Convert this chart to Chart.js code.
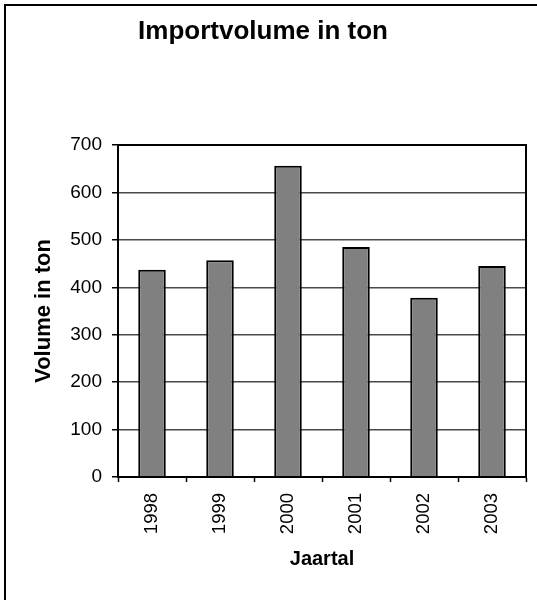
<!DOCTYPE html>
<html>
<head>
<meta charset="utf-8">
<script src="https://cdn.jsdelivr.net/npm/chart.js@4"></script>
<style>
  html, body { margin: 0; padding: 0; background: #fff; }
  #wrap { position: relative; width: 537px; height: 600px; overflow: hidden; }
  #frame {
    position: absolute; left: 4px; top: 4px; width: 600px; height: 700px;
    border-left: 2px solid #000; border-top: 2px solid #000; pointer-events: none;
  }
</style>
</head>
<body>
<div id="wrap">
  <canvas id="chart" width="537" height="600"></canvas>
  <div id="frame"></div>
</div>
<script>
// ── Data ───────────────────────────────────────────────────────────────────
const years   = ['1998', '1999', '2000', '2001', '2002', '2003'];
const volumes = [437, 457, 656, 485, 378, 445];
const yTicks  = { min: 0, max: 700, step: 100 };

const FONT = '"Liberation Sans", Arial, sans-serif';

// box round the plot area (top + right edges)
const plotFrame = {
  id: 'plotFrame',
  afterDatasetsDraw(chart) {
    const { ctx, chartArea: a } = chart;
    ctx.save();
    ctx.strokeStyle = '#000';
    ctx.lineWidth = 2;
    ctx.strokeRect(a.left, a.top, a.right - a.left, a.bottom - a.top);
    ctx.restore();
  },
};

new Chart(document.getElementById('chart'), {
  type: 'bar',
  data: {
    labels: years,
    datasets: [{
      data: volumes,
      backgroundColor: '#808080',
      borderColor: '#000',
      borderWidth: 2,
      barPercentage: 0.405,
      categoryPercentage: 1,
    }],
  },
  options: {
    responsive: false, animation: false,
    layout: { padding: { left: 0, right: 11, top: 0, bottom: 0 } },
    plugins: {
      legend: { display: false },
      tooltip: { enabled: false },
      title: {
        display: true,
        text: 'Importvolume in ton',
        color: '#000',
        font: { family: FONT, size: 26, weight: 'bold' },
        padding: { top: 16, bottom: 97.8 },
      },
    },
    scales: {
      x: {
        afterFit: s => { s.height = 123; },
        grid: { drawOnChartArea: false, offset: true, tickLength: 5, tickColor: '#000', tickWidth: 1.5 },
        border: { color: '#000', width: 2 },
        ticks: { color: '#000', font: { family: FONT, size: 18.5 }, minRotation: 90, maxRotation: 90, padding: 11 },
        title: {
          display: true, text: 'Jaartal', color: '#000',
          font: { family: FONT, size: 20, weight: 'bold' },
          padding: { top: 0, bottom: 29 },
        },
      },
      y: {
        min: yTicks.min, max: yTicks.max,
        afterFit: s => { s.width = 118; },
        grid: { color: '#4a4a4a', lineWidth: 1.5, tickLength: 6, tickColor: '#000', tickWidth: 1.5 },
        border: { color: '#000', width: 2 },
        ticks: { stepSize: yTicks.step, color: '#000', font: { family: FONT, size: 19 }, padding: 10 },
        title: {
          display: true, text: 'Volume in ton', color: '#000',
          font: { family: FONT, size: 22, weight: 'bold' },
          padding: { top: 31, bottom: 0 },
        },
      },
    },
  },
  plugins: [plotFrame],
});
</script>
</body>
</html>
